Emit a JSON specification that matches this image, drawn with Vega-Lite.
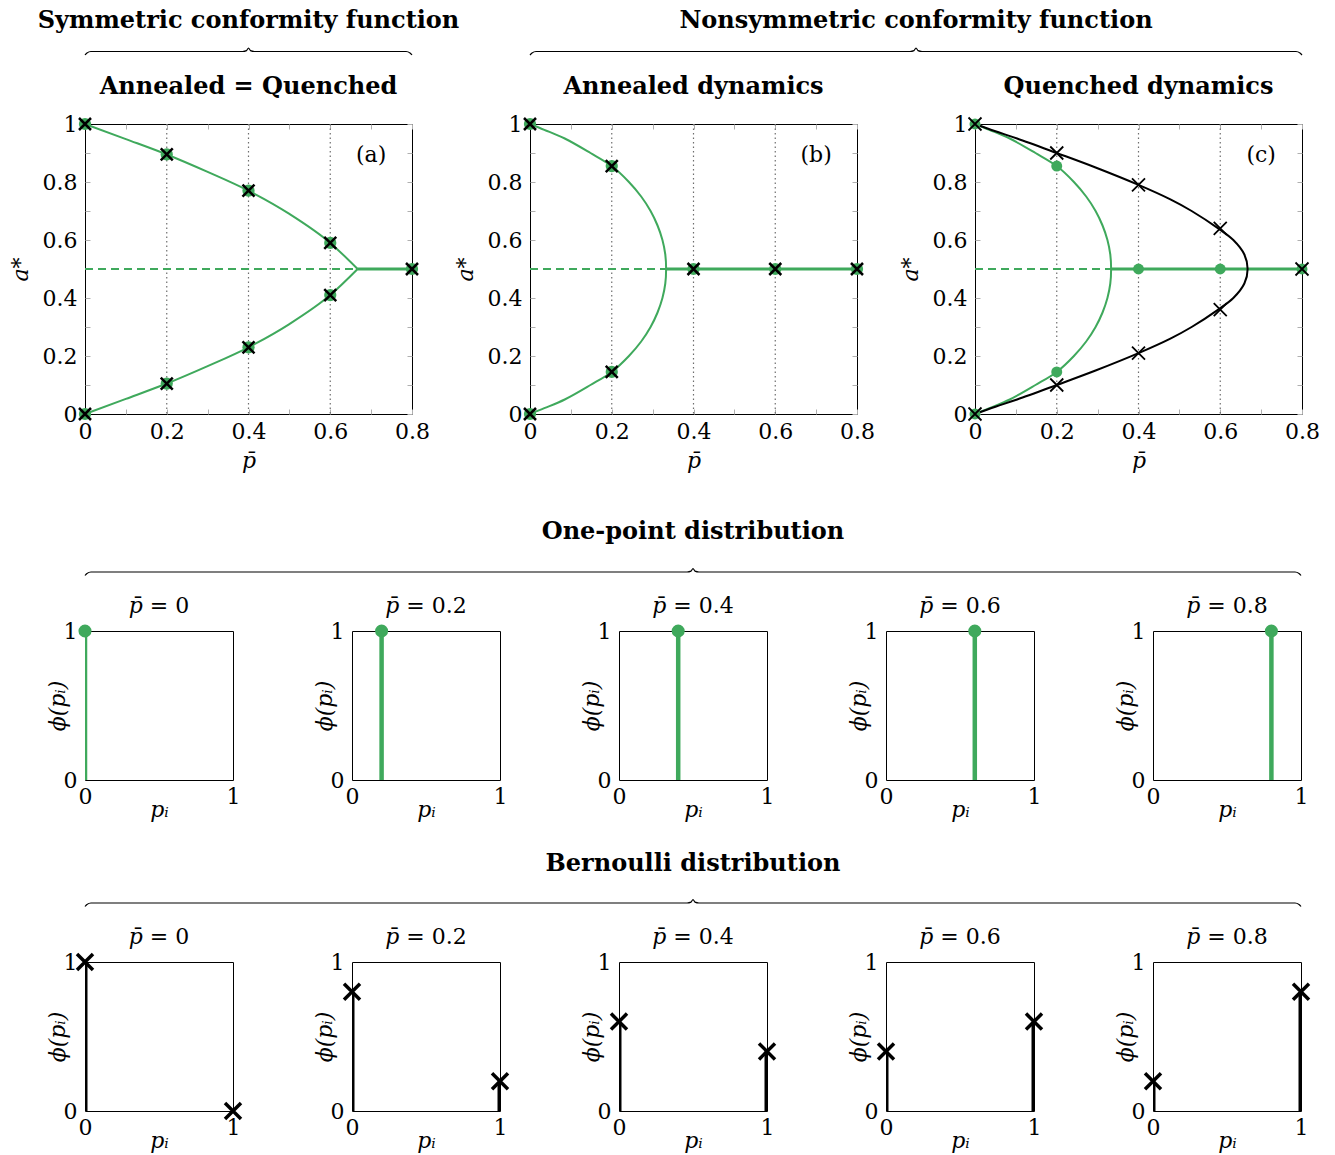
{
"$schema":"https://vega.github.io/schema/vega-lite/v6.json",
"background":"white",
"padding":{"left":8,"top":5,"right":5,"bottom":5},
"spacing":16,
"config":{"font":"DejaVu Serif","view":{"stroke":"black","strokeWidth":1},
"axis":{"labelFont":"DejaVu Serif","labelFontSize":22,"labelColor":"black","titleFont":"DejaVu Serif","titleFontSize":22,"titleFontWeight":"normal","titleColor":"black","labelFlush":false,"labelOverlap":false,"grid":false,"domain":false},
"title":{"font":"DejaVu Serif","fontSize":22,"fontWeight":"normal","color":"black"},
"text":{"font":"DejaVu Serif","color":"black"}},
"vconcat":[
{"hconcat":[
 {"width":327,"height":50,"view":{"stroke":null},"layer":[
  {"data":{"values":[{"x":0,"y":0},{"x":0.006,"y":0.3},{"x":0.018,"y":0.5},{"x":0.482,"y":0.5},{"x":0.494,"y":0.62},{"x":0.5,"y":1},{"x":0.506,"y":0.62},{"x":0.518,"y":0.5},{"x":0.982,"y":0.5},{"x":0.994,"y":0.3},{"x":1,"y":0}]},
   "mark":{"type":"line","color":"black","strokeWidth":1.2,"interpolate":"monotone"},
   "encoding":{"x":{"field":"x","type":"quantitative","scale":{"domain":[0,1],"nice":false},"axis":null},"y":{"field":"y","type":"quantitative","scale":{"domain":[0,7.14],"nice":false},"axis":null}}},
  {"data":{"values":[{"label":"Symmetric conformity function"}]},"mark":{"type":"text","fontSize":24,"fontWeight":"bold","baseline":"middle"},
   "encoding":{"text":{"field":"label"},"x":{"datum":0.5,"type":"quantitative","axis":null},"y":{"datum":4.85,"type":"quantitative","axis":null}}}
 ]},
 {"width":772,"height":50,"view":{"stroke":null},"layer":[
  {"data":{"values":[{"x":0,"y":0},{"x":0.0026,"y":0.3},{"x":0.0078,"y":0.5},{"x":0.4922,"y":0.5},{"x":0.4974,"y":0.62},{"x":0.5,"y":1},{"x":0.5026,"y":0.62},{"x":0.5078,"y":0.5},{"x":0.9922,"y":0.5},{"x":0.9974,"y":0.3},{"x":1,"y":0}]},
   "mark":{"type":"line","color":"black","strokeWidth":1.2,"interpolate":"monotone"},
   "encoding":{"x":{"field":"x","type":"quantitative","scale":{"domain":[0,1],"nice":false},"axis":null},"y":{"field":"y","type":"quantitative","scale":{"domain":[0,7.14],"nice":false},"axis":null}}},
  {"data":{"values":[{"label":"Nonsymmetric conformity function"}]},"mark":{"type":"text","fontSize":24,"fontWeight":"bold","baseline":"middle"},
   "encoding":{"text":{"field":"label"},"x":{"datum":0.5,"type":"quantitative","axis":null},"y":{"datum":4.85,"type":"quantitative","axis":null}}}
 ]}
],"spacing":118,"bounds":"flush"},
{"hconcat":[
 {"width":327,"height":290,
  "title":{"text":"Annealed = Quenched","fontSize":24,"fontWeight":"bold","offset":14},
  "resolve":{"axis":{"x":"independent","y":"independent"}},
  "layer":[
   {"data":{"values":[{"p":0.2},{"p":0.4},{"p":0.6}]},"mark":{"type":"rule","strokeDash":[1.5,3],"color":"#6e6e6e","strokeWidth":1.2},
    "encoding":{"x":{"field":"p","type":"quantitative","scale":{"domain":[0,0.8],"nice":false},"axis":{"values":[0,0.1,0.2,0.3,0.4,0.5,0.6,0.7,0.8],"labelExpr":"round(datum.value*10)%2==0 ? format(datum.value,'~g') : ''","tickSize":-5,"tickColor":"#b0b0b0","labelPadding":12,"title":"p̄","titleFontStyle":"italic","titlePadding":8}}}},
   {"data":{"values":[{"p0":0,"p1":0.667,"a":0.5}]},"mark":{"type":"rule","color":"#3fa95c","strokeWidth":2,"strokeDash":[8,5]},
    "encoding":{"x":{"field":"p0","type":"quantitative","axis":null},"x2":{"field":"p1"},"y":{"field":"a","type":"quantitative","scale":{"domain":[0,1],"nice":false},"axis":{"values":[0,0.1,0.2,0.3,0.4,0.5,0.6,0.7,0.8,0.9,1],"labelExpr":"round(datum.value*10)%2==0 ? format(datum.value,'~g') : ''","tickSize":-5,"tickColor":"#b0b0b0","labelPadding":13,"title":"a*","titleFontStyle":"italic","titlePadding":10}}}},
   {"data":{"values":[{"p0":0.667,"p1":0.8,"a":0.5}]},"mark":{"type":"rule","color":"#3fa95c","strokeWidth":3},
    "encoding":{"x":{"field":"p0","type":"quantitative","axis":null},"x2":{"field":"p1"},"y":{"field":"a","type":"quantitative","axis":null}}},
   {"data":{"values":[{"branch":"u","p":0,"a":1},{"branch":"u","p":0.1,"a":0.948},{"branch":"u","p":0.2,"a":0.895},{"branch":"u","p":0.3,"a":0.835},{"branch":"u","p":0.4,"a":0.77},{"branch":"u","p":0.5,"a":0.69},{"branch":"u","p":0.6,"a":0.59},{"branch":"u","p":0.667,"a":0.5},{"branch":"l","p":0,"a":0},{"branch":"l","p":0.1,"a":0.052},{"branch":"l","p":0.2,"a":0.105},{"branch":"l","p":0.3,"a":0.165},{"branch":"l","p":0.4,"a":0.23},{"branch":"l","p":0.5,"a":0.31},{"branch":"l","p":0.6,"a":0.41},{"branch":"l","p":0.667,"a":0.5}]},
    "mark":{"type":"line","color":"#3fa95c","strokeWidth":2,"interpolate":"monotone"},
    "encoding":{"x":{"field":"p","type":"quantitative","axis":null},"y":{"field":"a","type":"quantitative","axis":null},"detail":{"field":"branch"}}},
   {"data":{"values":[{"p":0,"a":1},{"p":0,"a":0},{"p":0.2,"a":0.895},{"p":0.2,"a":0.105},{"p":0.4,"a":0.77},{"p":0.4,"a":0.23},{"p":0.6,"a":0.59},{"p":0.6,"a":0.41},{"p":0.8,"a":0.5}]},
    "mark":{"type":"point","shape":"circle","filled":true,"color":"#3fa95c","size":150,"opacity":1},
    "encoding":{"x":{"field":"p","type":"quantitative","axis":{"orient":"top","values":[0,0.1,0.2,0.3,0.4,0.5,0.6,0.7,0.8],"labels":false,"tickSize":-5,"tickColor":"#b0b0b0","title":null}},"y":{"field":"a","type":"quantitative","axis":{"orient":"right","values":[0,0.1,0.2,0.3,0.4,0.5,0.6,0.7,0.8,0.9,1],"labels":false,"tickSize":-5,"tickColor":"#b0b0b0","title":null}}}},
   {"data":{"values":[{"p":0,"a":1},{"p":0,"a":0},{"p":0.2,"a":0.895},{"p":0.2,"a":0.105},{"p":0.4,"a":0.77},{"p":0.4,"a":0.23},{"p":0.6,"a":0.59},{"p":0.6,"a":0.41},{"p":0.8,"a":0.5}]},
    "mark":{"type":"point","shape":"M-1,-1L1,1M-1,1L1,-1","filled":false,"color":"black","strokeWidth":2.5,"size":144,"opacity":1},
    "encoding":{"x":{"field":"p","type":"quantitative","axis":null},"y":{"field":"a","type":"quantitative","axis":null}}},
   {"data":{"values":[{"label":"(a)"}]},"mark":{"type":"text","fontSize":22},
    "encoding":{"text":{"field":"label"},"x":{"datum":0.7,"type":"quantitative","axis":null},"y":{"datum":0.893,"type":"quantitative","axis":null}}}
  ]},
 {"width":327,"height":290,
  "title":{"text":"Annealed dynamics","fontSize":24,"fontWeight":"bold","offset":14},
  "resolve":{"axis":{"x":"independent","y":"independent"}},
  "layer":[
   {"data":{"values":[{"p":0.2},{"p":0.4},{"p":0.6}]},"mark":{"type":"rule","strokeDash":[1.5,3],"color":"#6e6e6e","strokeWidth":1.2},
    "encoding":{"x":{"field":"p","type":"quantitative","scale":{"domain":[0,0.8],"nice":false},"axis":{"values":[0,0.1,0.2,0.3,0.4,0.5,0.6,0.7,0.8],"labelExpr":"round(datum.value*10)%2==0 ? format(datum.value,'~g') : ''","tickSize":-5,"tickColor":"#b0b0b0","labelPadding":12,"title":"p̄","titleFontStyle":"italic","titlePadding":8}}}},
   {"data":{"values":[{"p0":0,"p1":0.333,"a":0.5}]},"mark":{"type":"rule","color":"#3fa95c","strokeWidth":2,"strokeDash":[8,5]},
    "encoding":{"x":{"field":"p0","type":"quantitative","axis":null},"x2":{"field":"p1"},"y":{"field":"a","type":"quantitative","scale":{"domain":[0,1],"nice":false},"axis":{"values":[0,0.1,0.2,0.3,0.4,0.5,0.6,0.7,0.8,0.9,1],"labelExpr":"round(datum.value*10)%2==0 ? format(datum.value,'~g') : ''","tickSize":-5,"tickColor":"#b0b0b0","labelPadding":13,"title":"a*","titleFontStyle":"italic","titlePadding":10}}}},
   {"data":{"values":[{"p0":0.333,"p1":0.8,"a":0.5}]},"mark":{"type":"rule","color":"#3fa95c","strokeWidth":3},
    "encoding":{"x":{"field":"p0","type":"quantitative","axis":null},"x2":{"field":"p1"},"y":{"field":"a","type":"quantitative","axis":null}}},
   {"data":{"values":[{"p":0,"a":1},{"p":0.035,"a":0.98},{"p":0.085,"a":0.95},{"p":0.148,"a":0.9},{"p":0.2,"a":0.855},{"p":0.242,"a":0.8},{"p":0.272,"a":0.75},{"p":0.295,"a":0.7},{"p":0.312,"a":0.65},{"p":0.324,"a":0.6},{"p":0.331,"a":0.55},{"p":0.333,"a":0.5},{"p":0.331,"a":0.45},{"p":0.324,"a":0.4},{"p":0.312,"a":0.35},{"p":0.295,"a":0.3},{"p":0.272,"a":0.25},{"p":0.242,"a":0.2},{"p":0.2,"a":0.145},{"p":0.148,"a":0.1},{"p":0.085,"a":0.05},{"p":0.035,"a":0.02},{"p":0,"a":0}]},
    "mark":{"type":"line","color":"#3fa95c","strokeWidth":2,"interpolate":"catmull-rom"},
    "encoding":{"x":{"field":"p","type":"quantitative","axis":null},"y":{"field":"a","type":"quantitative","axis":null},"order":{"field":"a","sort":"descending"}}},
   {"data":{"values":[{"p":0,"a":1},{"p":0,"a":0},{"p":0.2,"a":0.855},{"p":0.2,"a":0.145},{"p":0.4,"a":0.5},{"p":0.6,"a":0.5},{"p":0.8,"a":0.5}]},
    "mark":{"type":"point","shape":"circle","filled":true,"color":"#3fa95c","size":150,"opacity":1},
    "encoding":{"x":{"field":"p","type":"quantitative","axis":{"orient":"top","values":[0,0.1,0.2,0.3,0.4,0.5,0.6,0.7,0.8],"labels":false,"tickSize":-5,"tickColor":"#b0b0b0","title":null}},"y":{"field":"a","type":"quantitative","axis":{"orient":"right","values":[0,0.1,0.2,0.3,0.4,0.5,0.6,0.7,0.8,0.9,1],"labels":false,"tickSize":-5,"tickColor":"#b0b0b0","title":null}}}},
   {"data":{"values":[{"p":0,"a":1},{"p":0,"a":0},{"p":0.2,"a":0.855},{"p":0.2,"a":0.145},{"p":0.4,"a":0.5},{"p":0.6,"a":0.5},{"p":0.8,"a":0.5}]},
    "mark":{"type":"point","shape":"M-1,-1L1,1M-1,1L1,-1","filled":false,"color":"black","strokeWidth":2.5,"size":144,"opacity":1},
    "encoding":{"x":{"field":"p","type":"quantitative","axis":null},"y":{"field":"a","type":"quantitative","axis":null}}},
   {"data":{"values":[{"label":"(b)"}]},"mark":{"type":"text","fontSize":22},
    "encoding":{"text":{"field":"label"},"x":{"datum":0.7,"type":"quantitative","axis":null},"y":{"datum":0.893,"type":"quantitative","axis":null}}}
  ]},
 {"width":327,"height":290,
  "title":{"text":"Quenched dynamics","fontSize":24,"fontWeight":"bold","offset":14},
  "resolve":{"axis":{"x":"independent","y":"independent"}},
  "layer":[
   {"data":{"values":[{"p":0.2},{"p":0.4},{"p":0.6}]},"mark":{"type":"rule","strokeDash":[1.5,3],"color":"#6e6e6e","strokeWidth":1.2},
    "encoding":{"x":{"field":"p","type":"quantitative","scale":{"domain":[0,0.8],"nice":false},"axis":{"values":[0,0.1,0.2,0.3,0.4,0.5,0.6,0.7,0.8],"labelExpr":"round(datum.value*10)%2==0 ? format(datum.value,'~g') : ''","tickSize":-5,"tickColor":"#b0b0b0","labelPadding":12,"title":"p̄","titleFontStyle":"italic","titlePadding":8}}}},
   {"data":{"values":[{"p0":0,"p1":0.333,"a":0.5}]},"mark":{"type":"rule","color":"#3fa95c","strokeWidth":2,"strokeDash":[8,5]},
    "encoding":{"x":{"field":"p0","type":"quantitative","axis":null},"x2":{"field":"p1"},"y":{"field":"a","type":"quantitative","scale":{"domain":[0,1],"nice":false},"axis":{"values":[0,0.1,0.2,0.3,0.4,0.5,0.6,0.7,0.8,0.9,1],"labelExpr":"round(datum.value*10)%2==0 ? format(datum.value,'~g') : ''","tickSize":-5,"tickColor":"#b0b0b0","labelPadding":13,"title":"a*","titleFontStyle":"italic","titlePadding":10}}}},
   {"data":{"values":[{"p0":0.333,"p1":0.8,"a":0.5}]},"mark":{"type":"rule","color":"#3fa95c","strokeWidth":3},
    "encoding":{"x":{"field":"p0","type":"quantitative","axis":null},"x2":{"field":"p1"},"y":{"field":"a","type":"quantitative","axis":null}}},
   {"data":{"values":[{"p":0,"a":1},{"p":0.035,"a":0.98},{"p":0.085,"a":0.95},{"p":0.148,"a":0.9},{"p":0.2,"a":0.855},{"p":0.242,"a":0.8},{"p":0.272,"a":0.75},{"p":0.295,"a":0.7},{"p":0.312,"a":0.65},{"p":0.324,"a":0.6},{"p":0.331,"a":0.55},{"p":0.333,"a":0.5},{"p":0.331,"a":0.45},{"p":0.324,"a":0.4},{"p":0.312,"a":0.35},{"p":0.295,"a":0.3},{"p":0.272,"a":0.25},{"p":0.242,"a":0.2},{"p":0.2,"a":0.145},{"p":0.148,"a":0.1},{"p":0.085,"a":0.05},{"p":0.035,"a":0.02},{"p":0,"a":0}]},
    "mark":{"type":"line","color":"#3fa95c","strokeWidth":2,"interpolate":"catmull-rom"},
    "encoding":{"x":{"field":"p","type":"quantitative","axis":null},"y":{"field":"a","type":"quantitative","axis":null},"order":{"field":"a","sort":"descending"}}},
   {"data":{"values":[{"p":0,"a":1},{"p":0.05,"a":0.975},{"p":0.103,"a":0.95},{"p":0.2,"a":0.9},{"p":0.295,"a":0.85},{"p":0.4,"a":0.79},{"p":0.478,"a":0.74},{"p":0.53,"a":0.7},{"p":0.595,"a":0.64},{"p":0.632,"a":0.6},{"p":0.659,"a":0.55},{"p":0.667,"a":0.5},{"p":0.659,"a":0.45},{"p":0.632,"a":0.4},{"p":0.595,"a":0.36},{"p":0.53,"a":0.3},{"p":0.478,"a":0.26},{"p":0.4,"a":0.21},{"p":0.295,"a":0.15},{"p":0.2,"a":0.1},{"p":0.103,"a":0.05},{"p":0.05,"a":0.025},{"p":0,"a":0}]},
    "mark":{"type":"line","color":"black","strokeWidth":2,"interpolate":"catmull-rom"},
    "encoding":{"x":{"field":"p","type":"quantitative","axis":null},"y":{"field":"a","type":"quantitative","axis":null},"order":{"field":"a","sort":"descending"}}},
   {"data":{"values":[{"p":0,"a":1},{"p":0,"a":0},{"p":0.2,"a":0.855},{"p":0.2,"a":0.145},{"p":0.4,"a":0.5},{"p":0.6,"a":0.5},{"p":0.8,"a":0.5}]},
    "mark":{"type":"point","shape":"circle","filled":true,"color":"#3fa95c","size":120,"opacity":1},
    "encoding":{"x":{"field":"p","type":"quantitative","axis":{"orient":"top","values":[0,0.1,0.2,0.3,0.4,0.5,0.6,0.7,0.8],"labels":false,"tickSize":-5,"tickColor":"#b0b0b0","title":null}},"y":{"field":"a","type":"quantitative","axis":{"orient":"right","values":[0,0.1,0.2,0.3,0.4,0.5,0.6,0.7,0.8,0.9,1],"labels":false,"tickSize":-5,"tickColor":"#b0b0b0","title":null}}}},
   {"data":{"values":[{"p":0,"a":1},{"p":0,"a":0},{"p":0.2,"a":0.9},{"p":0.2,"a":0.1},{"p":0.4,"a":0.79},{"p":0.4,"a":0.21},{"p":0.6,"a":0.64},{"p":0.6,"a":0.36},{"p":0.8,"a":0.5}]},
    "mark":{"type":"point","shape":"M-1,-1L1,1M-1,1L1,-1","filled":false,"color":"black","strokeWidth":1.8,"size":169,"opacity":1},
    "encoding":{"x":{"field":"p","type":"quantitative","axis":null},"y":{"field":"a","type":"quantitative","axis":null}}},
   {"data":{"values":[{"label":"(c)"}]},"mark":{"type":"text","fontSize":22},
    "encoding":{"text":{"field":"label"},"x":{"datum":0.7,"type":"quantitative","axis":null},"y":{"datum":0.893,"type":"quantitative","axis":null}}}
  ]}
],"spacing":118,"bounds":"flush"},
{"width":1216,"height":87.5,"view":{"stroke":null},"layer":[
  {"data":{"values":[{"x":0,"y":0},{"x":0.0016,"y":0.3},{"x":0.0049,"y":0.5},{"x":0.4951,"y":0.5},{"x":0.4984,"y":0.62},{"x":0.5,"y":1},{"x":0.5016,"y":0.62},{"x":0.5049,"y":0.5},{"x":0.9951,"y":0.5},{"x":0.9984,"y":0.3},{"x":1,"y":0}]},
   "mark":{"type":"line","color":"black","strokeWidth":1.2,"interpolate":"monotone"},
   "encoding":{"x":{"field":"x","type":"quantitative","scale":{"domain":[0,1],"nice":false},"axis":null},"y":{"field":"y","type":"quantitative","scale":{"domain":[0,12.5],"nice":false},"axis":null}}},
  {"data":{"values":[{"label":"One-point distribution"}]},"mark":{"type":"text","fontSize":24,"fontWeight":"bold","baseline":"middle"},
   "encoding":{"text":{"field":"label"},"x":{"datum":0.5,"type":"quantitative","axis":null},"y":{"datum":6.2,"type":"quantitative","axis":null}}}
]},
{"hconcat":[
 {"width":148,"height":149,"title":{"text":"𝑝̄ = 0","offset":2,"frame":"group"},"data":{"values":[{"p":0,"phi":1}]},"layer":[
  {"mark":{"type":"rule","color":"#3fa95c","strokeWidth":4.5,"clip":true},"encoding":{"x":{"field":"p","type":"quantitative","scale":{"domain":[0,1],"nice":false},"axis":{"values":[0,1],"format":"~g","ticks":false,"labelPadding":6,"title":"pᵢ","titleFontStyle":"italic","titlePadding":-8}},"y":{"field":"phi","type":"quantitative","scale":{"domain":[0,1],"nice":false},"axis":{"values":[0,1],"format":"~g","ticks":false,"labelPadding":8,"title":"ϕ(pᵢ)","titleFontStyle":"italic","titlePadding":-6}},"y2":{"datum":0}}},
  {"mark":{"type":"point","shape":"circle","filled":true,"color":"#3fa95c","size":170,"opacity":1},"encoding":{"x":{"field":"p","type":"quantitative"},"y":{"field":"phi","type":"quantitative"}}}]},
 {"width":148,"height":149,"title":{"text":"𝑝̄ = 0.2","offset":2,"frame":"group"},"data":{"values":[{"p":0.2,"phi":1}]},"layer":[
  {"mark":{"type":"rule","color":"#3fa95c","strokeWidth":4.5,"clip":true},"encoding":{"x":{"field":"p","type":"quantitative","scale":{"domain":[0,1],"nice":false},"axis":{"values":[0,1],"format":"~g","ticks":false,"labelPadding":6,"title":"pᵢ","titleFontStyle":"italic","titlePadding":-8}},"y":{"field":"phi","type":"quantitative","scale":{"domain":[0,1],"nice":false},"axis":{"values":[0,1],"format":"~g","ticks":false,"labelPadding":8,"title":"ϕ(pᵢ)","titleFontStyle":"italic","titlePadding":-6}},"y2":{"datum":0}}},
  {"mark":{"type":"point","shape":"circle","filled":true,"color":"#3fa95c","size":170,"opacity":1},"encoding":{"x":{"field":"p","type":"quantitative"},"y":{"field":"phi","type":"quantitative"}}}]},
 {"width":148,"height":149,"title":{"text":"𝑝̄ = 0.4","offset":2,"frame":"group"},"data":{"values":[{"p":0.4,"phi":1}]},"layer":[
  {"mark":{"type":"rule","color":"#3fa95c","strokeWidth":4.5,"clip":true},"encoding":{"x":{"field":"p","type":"quantitative","scale":{"domain":[0,1],"nice":false},"axis":{"values":[0,1],"format":"~g","ticks":false,"labelPadding":6,"title":"pᵢ","titleFontStyle":"italic","titlePadding":-8}},"y":{"field":"phi","type":"quantitative","scale":{"domain":[0,1],"nice":false},"axis":{"values":[0,1],"format":"~g","ticks":false,"labelPadding":8,"title":"ϕ(pᵢ)","titleFontStyle":"italic","titlePadding":-6}},"y2":{"datum":0}}},
  {"mark":{"type":"point","shape":"circle","filled":true,"color":"#3fa95c","size":170,"opacity":1},"encoding":{"x":{"field":"p","type":"quantitative"},"y":{"field":"phi","type":"quantitative"}}}]},
 {"width":148,"height":149,"title":{"text":"𝑝̄ = 0.6","offset":2,"frame":"group"},"data":{"values":[{"p":0.6,"phi":1}]},"layer":[
  {"mark":{"type":"rule","color":"#3fa95c","strokeWidth":4.5,"clip":true},"encoding":{"x":{"field":"p","type":"quantitative","scale":{"domain":[0,1],"nice":false},"axis":{"values":[0,1],"format":"~g","ticks":false,"labelPadding":6,"title":"pᵢ","titleFontStyle":"italic","titlePadding":-8}},"y":{"field":"phi","type":"quantitative","scale":{"domain":[0,1],"nice":false},"axis":{"values":[0,1],"format":"~g","ticks":false,"labelPadding":8,"title":"ϕ(pᵢ)","titleFontStyle":"italic","titlePadding":-6}},"y2":{"datum":0}}},
  {"mark":{"type":"point","shape":"circle","filled":true,"color":"#3fa95c","size":170,"opacity":1},"encoding":{"x":{"field":"p","type":"quantitative"},"y":{"field":"phi","type":"quantitative"}}}]},
 {"width":148,"height":149,"title":{"text":"𝑝̄ = 0.8","offset":2,"frame":"group"},"data":{"values":[{"p":0.8,"phi":1}]},"layer":[
  {"mark":{"type":"rule","color":"#3fa95c","strokeWidth":4.5,"clip":true},"encoding":{"x":{"field":"p","type":"quantitative","scale":{"domain":[0,1],"nice":false},"axis":{"values":[0,1],"format":"~g","ticks":false,"labelPadding":6,"title":"pᵢ","titleFontStyle":"italic","titlePadding":-8}},"y":{"field":"phi","type":"quantitative","scale":{"domain":[0,1],"nice":false},"axis":{"values":[0,1],"format":"~g","ticks":false,"labelPadding":8,"title":"ϕ(pᵢ)","titleFontStyle":"italic","titlePadding":-6}},"y2":{"datum":0}}},
  {"mark":{"type":"point","shape":"circle","filled":true,"color":"#3fa95c","size":170,"opacity":1},"encoding":{"x":{"field":"p","type":"quantitative"},"y":{"field":"phi","type":"quantitative"}}}]}
],"spacing":119,"bounds":"flush"},
{"width":1216,"height":69.5,"view":{"stroke":null},"layer":[
  {"data":{"values":[{"x":0,"y":0},{"x":0.0016,"y":0.3},{"x":0.0049,"y":0.5},{"x":0.4951,"y":0.5},{"x":0.4984,"y":0.62},{"x":0.5,"y":1},{"x":0.5016,"y":0.62},{"x":0.5049,"y":0.5},{"x":0.9951,"y":0.5},{"x":0.9984,"y":0.3},{"x":1,"y":0}]},
   "mark":{"type":"line","color":"black","strokeWidth":1.2,"interpolate":"monotone"},
   "encoding":{"x":{"field":"x","type":"quantitative","scale":{"domain":[0,1],"nice":false},"axis":null},"y":{"field":"y","type":"quantitative","scale":{"domain":[0,9.93],"nice":false},"axis":null}}},
  {"data":{"values":[{"label":"Bernoulli distribution"}]},"mark":{"type":"text","fontSize":24,"fontWeight":"bold","baseline":"middle"},
   "encoding":{"text":{"field":"label"},"x":{"datum":0.5,"type":"quantitative","axis":null},"y":{"datum":6.1,"type":"quantitative","axis":null}}}
]},
{"hconcat":[
 {"width":148,"height":149,"title":{"text":"𝑝̄ = 0","offset":-2,"frame":"group"},"data":{"values":[{"p":0,"phi":1},{"p":1,"phi":0}]},"layer":[
  {"mark":{"type":"rule","color":"black","strokeWidth":5,"clip":true},"encoding":{"x":{"field":"p","type":"quantitative","scale":{"domain":[0,1],"nice":false},"axis":{"values":[0,1],"format":"~g","ticks":false,"labelPadding":6,"title":"pᵢ","titleFontStyle":"italic","titlePadding":-8}},"y":{"field":"phi","type":"quantitative","scale":{"domain":[0,1],"nice":false},"axis":{"values":[0,1],"format":"~g","ticks":false,"labelPadding":8,"title":"ϕ(pᵢ)","titleFontStyle":"italic","titlePadding":-6}},"y2":{"datum":0}}},
  {"mark":{"type":"point","shape":"M-1,-1L1,1M-1,1L1,-1","filled":false,"color":"black","strokeWidth":3.5,"size":256,"opacity":1},"encoding":{"x":{"field":"p","type":"quantitative"},"y":{"field":"phi","type":"quantitative"}}}]},
 {"width":148,"height":149,"title":{"text":"𝑝̄ = 0.2","offset":2,"frame":"group"},"data":{"values":[{"p":0,"phi":0.8},{"p":1,"phi":0.2}]},"layer":[
  {"mark":{"type":"rule","color":"black","strokeWidth":5,"clip":true},"encoding":{"x":{"field":"p","type":"quantitative","scale":{"domain":[0,1],"nice":false},"axis":{"values":[0,1],"format":"~g","ticks":false,"labelPadding":6,"title":"pᵢ","titleFontStyle":"italic","titlePadding":-8}},"y":{"field":"phi","type":"quantitative","scale":{"domain":[0,1],"nice":false},"axis":{"values":[0,1],"format":"~g","ticks":false,"labelPadding":8,"title":"ϕ(pᵢ)","titleFontStyle":"italic","titlePadding":-6}},"y2":{"datum":0}}},
  {"mark":{"type":"point","shape":"M-1,-1L1,1M-1,1L1,-1","filled":false,"color":"black","strokeWidth":3.5,"size":256,"opacity":1},"encoding":{"x":{"field":"p","type":"quantitative"},"y":{"field":"phi","type":"quantitative"}}}]},
 {"width":148,"height":149,"title":{"text":"𝑝̄ = 0.4","offset":2,"frame":"group"},"data":{"values":[{"p":0,"phi":0.6},{"p":1,"phi":0.4}]},"layer":[
  {"mark":{"type":"rule","color":"black","strokeWidth":5,"clip":true},"encoding":{"x":{"field":"p","type":"quantitative","scale":{"domain":[0,1],"nice":false},"axis":{"values":[0,1],"format":"~g","ticks":false,"labelPadding":6,"title":"pᵢ","titleFontStyle":"italic","titlePadding":-8}},"y":{"field":"phi","type":"quantitative","scale":{"domain":[0,1],"nice":false},"axis":{"values":[0,1],"format":"~g","ticks":false,"labelPadding":8,"title":"ϕ(pᵢ)","titleFontStyle":"italic","titlePadding":-6}},"y2":{"datum":0}}},
  {"mark":{"type":"point","shape":"M-1,-1L1,1M-1,1L1,-1","filled":false,"color":"black","strokeWidth":3.5,"size":256,"opacity":1},"encoding":{"x":{"field":"p","type":"quantitative"},"y":{"field":"phi","type":"quantitative"}}}]},
 {"width":148,"height":149,"title":{"text":"𝑝̄ = 0.6","offset":2,"frame":"group"},"data":{"values":[{"p":0,"phi":0.4},{"p":1,"phi":0.6}]},"layer":[
  {"mark":{"type":"rule","color":"black","strokeWidth":5,"clip":true},"encoding":{"x":{"field":"p","type":"quantitative","scale":{"domain":[0,1],"nice":false},"axis":{"values":[0,1],"format":"~g","ticks":false,"labelPadding":6,"title":"pᵢ","titleFontStyle":"italic","titlePadding":-8}},"y":{"field":"phi","type":"quantitative","scale":{"domain":[0,1],"nice":false},"axis":{"values":[0,1],"format":"~g","ticks":false,"labelPadding":8,"title":"ϕ(pᵢ)","titleFontStyle":"italic","titlePadding":-6}},"y2":{"datum":0}}},
  {"mark":{"type":"point","shape":"M-1,-1L1,1M-1,1L1,-1","filled":false,"color":"black","strokeWidth":3.5,"size":256,"opacity":1},"encoding":{"x":{"field":"p","type":"quantitative"},"y":{"field":"phi","type":"quantitative"}}}]},
 {"width":148,"height":149,"title":{"text":"𝑝̄ = 0.8","offset":2,"frame":"group"},"data":{"values":[{"p":0,"phi":0.2},{"p":1,"phi":0.8}]},"layer":[
  {"mark":{"type":"rule","color":"black","strokeWidth":5,"clip":true},"encoding":{"x":{"field":"p","type":"quantitative","scale":{"domain":[0,1],"nice":false},"axis":{"values":[0,1],"format":"~g","ticks":false,"labelPadding":6,"title":"pᵢ","titleFontStyle":"italic","titlePadding":-8}},"y":{"field":"phi","type":"quantitative","scale":{"domain":[0,1],"nice":false},"axis":{"values":[0,1],"format":"~g","ticks":false,"labelPadding":8,"title":"ϕ(pᵢ)","titleFontStyle":"italic","titlePadding":-6}},"y2":{"datum":0}}},
  {"mark":{"type":"point","shape":"M-1,-1L1,1M-1,1L1,-1","filled":false,"color":"black","strokeWidth":3.5,"size":256,"opacity":1},"encoding":{"x":{"field":"p","type":"quantitative"},"y":{"field":"phi","type":"quantitative"}}}]}
],"spacing":119,"bounds":"flush"}
]
}
